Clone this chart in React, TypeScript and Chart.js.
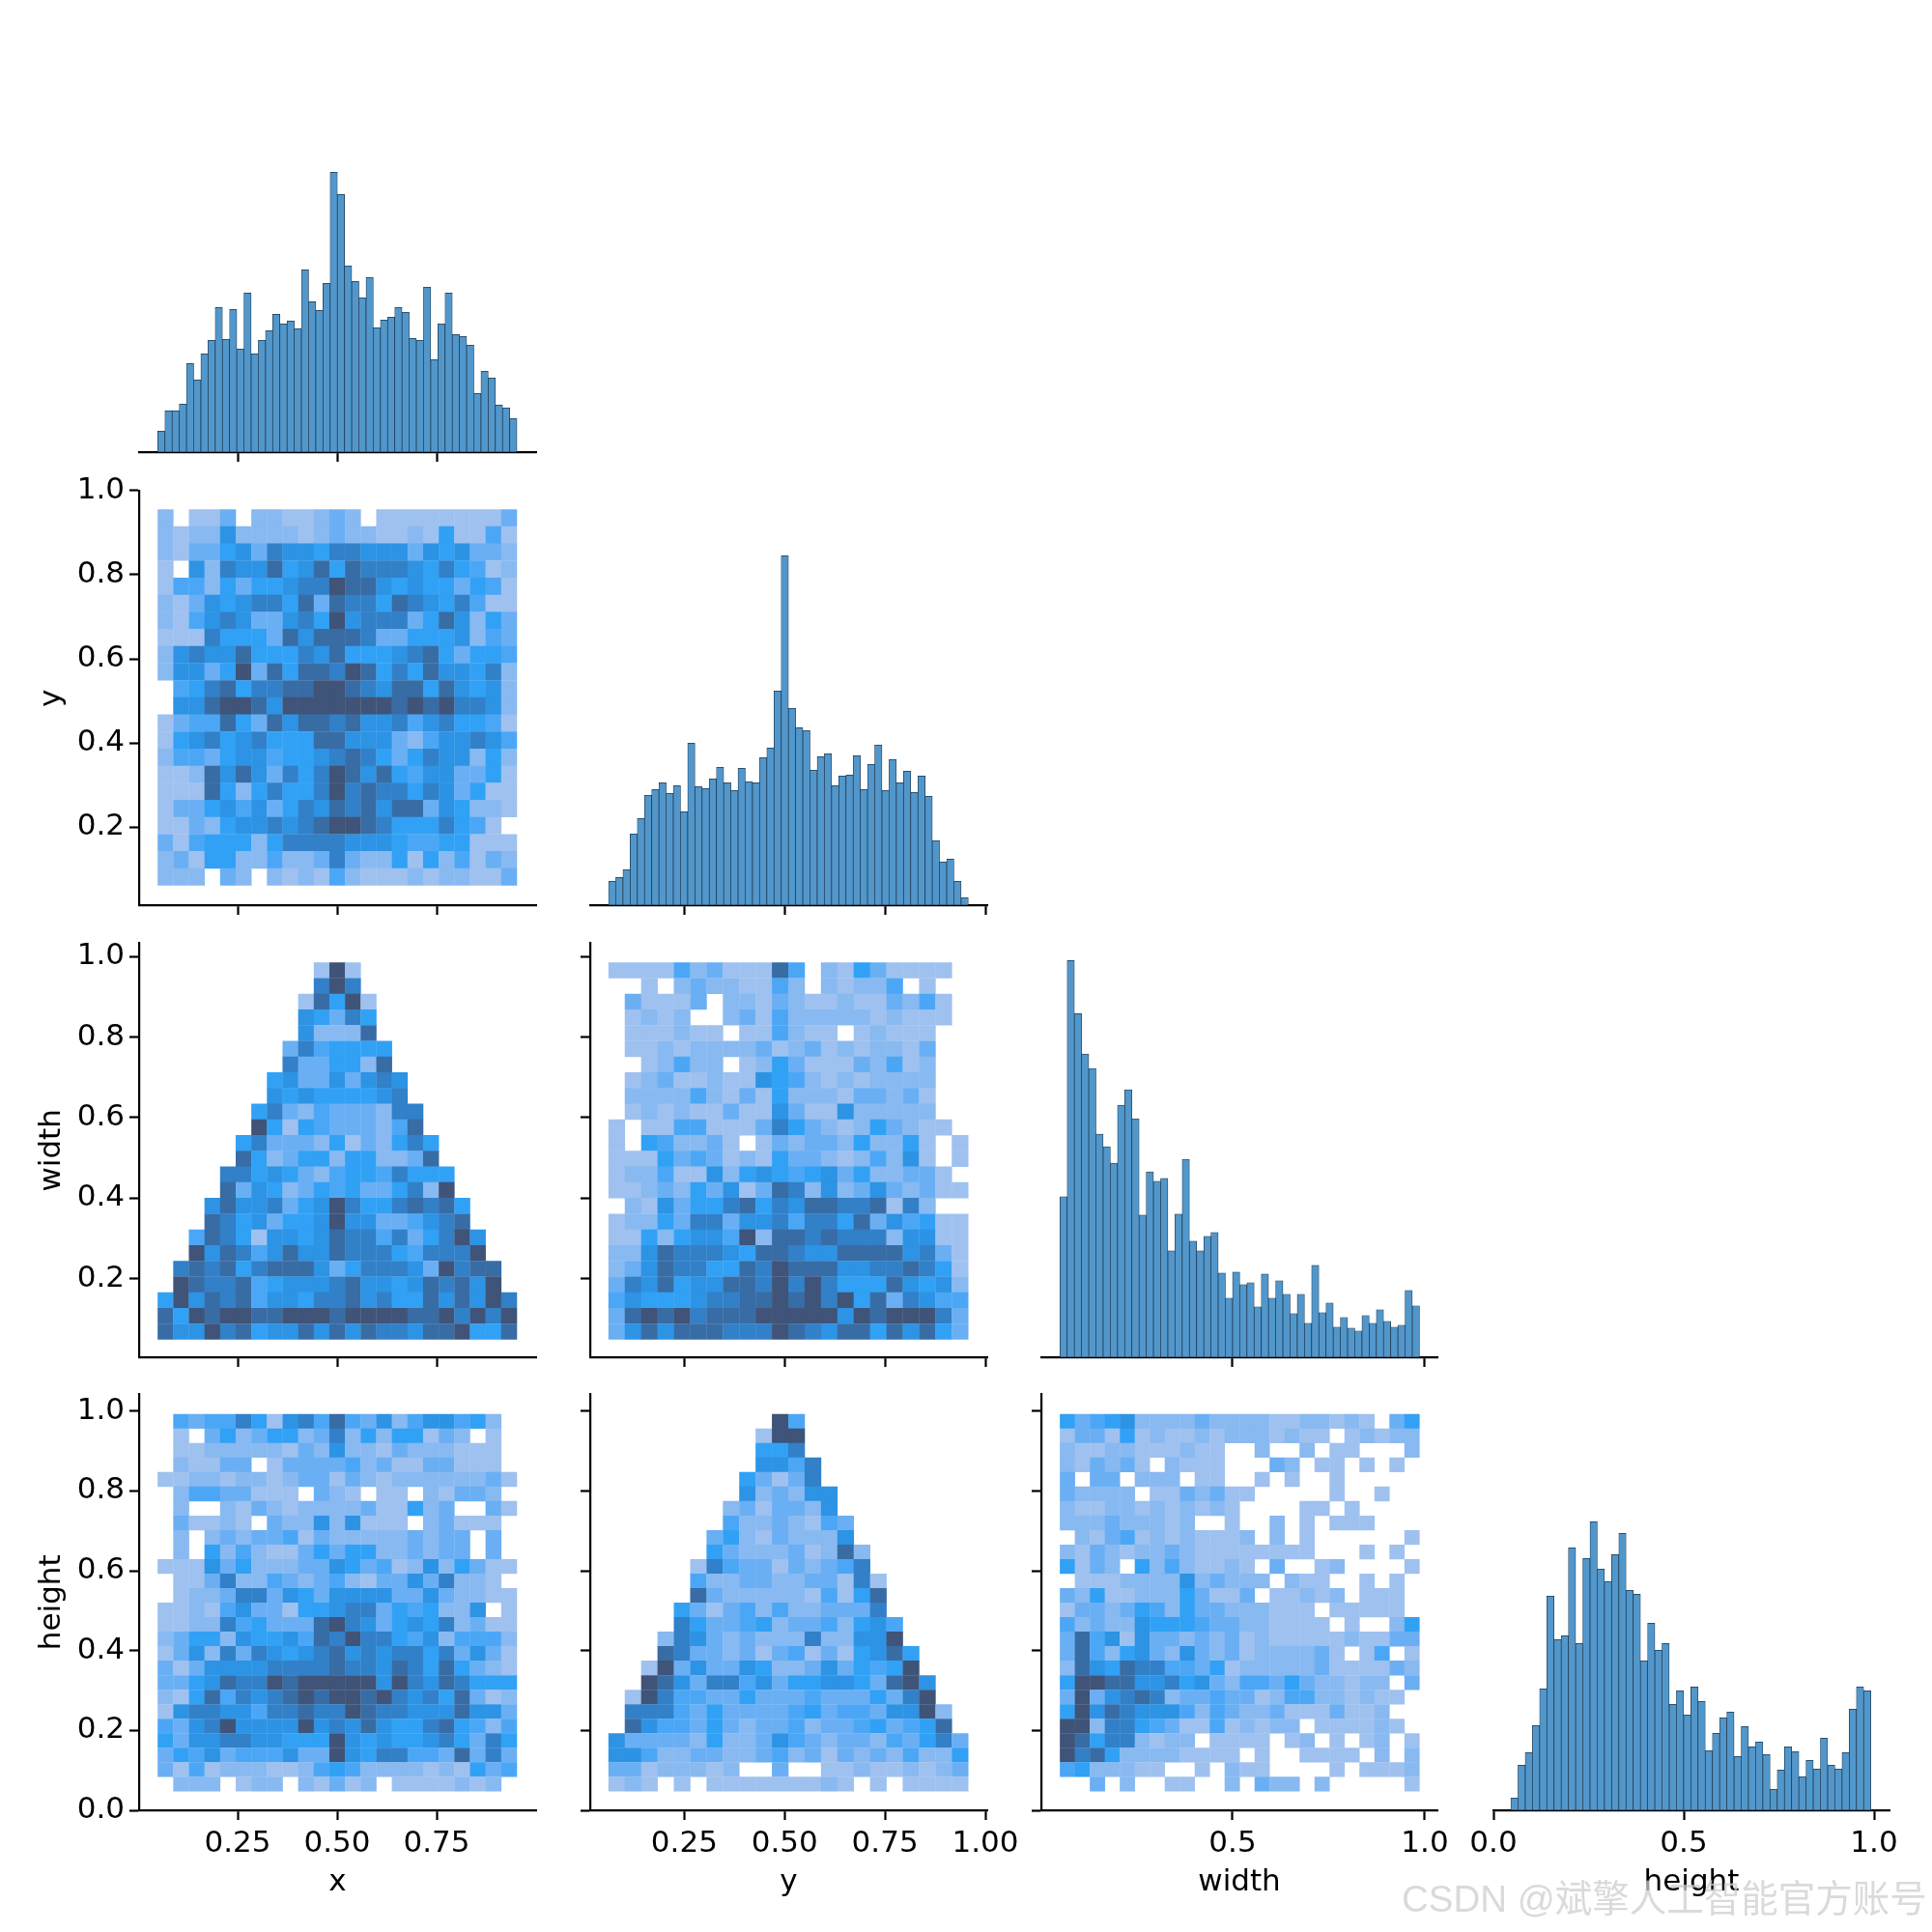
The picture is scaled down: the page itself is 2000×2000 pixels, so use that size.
import React, { useEffect, useRef } from "react";
import { Chart, registerables } from "chart.js";

Chart.register(...registerables);

// Histogram bar heights (counts)
const histX = [65,128,128,149,275,224,305,347,449,350,443,320,494,305,347,377,428,398,407,383,566,467,440,524,869,800,578,530,479,542,386,410,419,449,434,353,347,512,287,398,494,365,359,332,182,251,230,146,137,104];
const histY = [74,86,110,221,269,341,359,380,347,371,290,503,368,362,392,428,380,356,425,383,380,458,488,665,1085,611,551,542,419,461,470,371,401,404,464,359,437,497,356,452,380,416,350,401,338,200,134,143,74,23];
const histWidth = [499,1234,1069,943,898,694,655,604,784,832,742,442,577,547,556,331,445,616,361,331,376,388,262,184,265,226,232,157,259,184,238,196,136,196,106,286,139,169,94,124,91,82,130,106,148,112,94,100,208,160];
const histHeight = [38,140,179,263,377,665,530,542,815,518,782,896,749,710,794,860,683,671,464,581,497,518,329,371,296,383,338,185,239,287,305,167,260,197,212,173,65,125,197,182,104,155,128,224,140,128,179,314,383,371];

// 2-D histogram shade levels (0 = empty), rows listed from the top down
const heatYvsX = [
[2,0,1,1,3,0,2,2,1,1,2,3,2,0,1,1,1,1,1,1,1,1,3],
[2,1,2,2,6,2,2,2,2,1,2,3,2,2,1,1,2,1,5,1,1,4,1],
[2,1,3,3,5,6,3,7,6,6,5,7,7,6,6,6,3,6,5,6,3,3,2],
[1,0,6,2,7,6,6,8,5,6,8,5,8,7,7,7,6,5,7,5,4,1,2],
[1,4,4,2,5,3,5,5,6,7,7,9,8,8,6,5,6,5,5,3,5,4,1],
[2,1,3,6,5,6,7,7,5,8,3,8,7,7,5,8,7,6,5,7,4,1,1],
[2,1,4,6,7,6,3,3,6,7,5,9,6,7,7,7,3,5,8,6,2,5,3],
[1,1,1,7,5,5,5,3,8,6,8,8,8,7,3,3,5,5,5,6,2,4,3],
[2,6,7,6,6,8,5,5,5,7,6,8,5,5,5,6,7,8,5,3,5,5,4],
[2,6,6,3,5,9,3,8,5,8,8,7,9,8,5,7,5,8,6,6,5,7,2],
[0,4,5,7,8,5,7,7,8,8,9,9,8,7,6,8,8,5,8,6,5,6,2],
[0,6,6,8,9,9,8,6,9,9,9,9,9,9,9,8,9,8,9,7,7,6,2],
[1,3,4,4,8,5,3,8,6,8,8,7,8,6,6,7,4,6,7,5,5,4,1],
[1,5,6,7,5,6,7,5,5,5,8,8,6,6,6,3,2,4,6,6,7,6,4],
[2,4,4,3,5,6,6,4,5,5,6,7,8,7,5,3,5,7,6,6,2,5,2],
[1,1,2,8,6,8,6,3,7,5,7,9,8,6,8,5,4,6,6,3,3,5,1],
[1,1,1,8,5,2,5,7,5,5,7,9,7,8,7,7,5,7,6,3,5,1,1],
[1,3,3,5,6,4,6,3,5,7,6,8,7,8,6,8,8,3,6,5,2,2,1],
[1,1,3,2,5,6,6,7,6,7,8,9,9,8,7,5,5,5,7,5,4,1,0],
[3,1,4,5,5,5,2,5,7,7,7,7,6,6,6,5,4,4,5,5,1,1,1],
[2,3,1,5,5,2,2,4,2,2,3,7,3,2,2,5,1,5,2,4,1,3,2],
[2,2,2,0,3,2,0,2,1,2,1,4,2,1,1,1,2,1,2,2,1,1,3],
];
const heatWidthVsX = [
[0,0,0,0,0,0,0,0,0,0,1,9,1,0,0,0,0,0,0,0,0,0,0],
[0,0,0,0,0,0,0,0,0,0,7,9,7,0,0,0,0,0,0,0,0,0,0],
[0,0,0,0,0,0,0,0,0,1,8,5,9,1,0,0,0,0,0,0,0,0,0],
[0,0,0,0,0,0,0,0,0,6,5,3,7,5,0,0,0,0,0,0,0,0,0],
[0,0,0,0,0,0,0,0,0,6,2,2,2,8,0,0,0,0,0,0,0,0,0],
[0,0,0,0,0,0,0,0,3,7,4,5,5,5,5,0,0,0,0,0,0,0,0],
[0,0,0,0,0,0,0,0,7,3,3,5,5,2,8,0,0,0,0,0,0,0,0],
[0,0,0,0,0,0,0,5,6,3,3,6,3,6,7,6,0,0,0,0,0,0,0],
[0,0,0,0,0,0,0,6,5,6,5,5,5,5,6,7,0,0,0,0,0,0,0],
[0,0,0,0,0,0,5,7,3,2,4,3,3,3,2,7,7,0,0,0,0,0,0],
[0,0,0,0,0,0,9,5,1,5,4,3,3,3,2,4,8,0,0,0,0,0,0],
[0,0,0,0,0,5,7,3,3,3,2,5,1,3,2,5,7,5,0,0,0,0,0],
[0,0,0,0,0,8,5,2,3,5,5,2,5,5,2,2,3,8,0,0,0,0,0],
[0,0,0,0,7,7,5,6,5,3,2,4,5,5,4,7,5,5,5,0,0,0,0],
[0,0,0,0,8,3,6,5,2,3,5,4,5,3,3,5,7,2,9,0,0,0,0],
[0,0,0,6,8,6,6,7,3,5,6,9,7,5,5,7,8,7,8,5,0,0,0],
[0,0,0,8,7,5,6,3,5,5,6,9,6,6,3,3,4,6,7,8,0,0,0],
[0,0,4,8,7,5,1,6,6,5,6,8,7,7,4,7,3,5,7,9,6,0,0],
[0,0,9,6,8,7,4,6,8,6,6,8,7,7,7,5,4,7,7,7,9,0,0],
[0,7,8,7,8,5,7,8,8,8,6,3,5,7,7,7,6,3,9,7,8,8,0],
[0,9,8,7,7,8,4,5,6,6,6,7,8,6,6,5,6,8,7,8,6,9,0],
[5,9,6,8,7,8,4,6,6,5,7,7,8,6,7,5,5,8,6,8,6,9,7],
[8,5,9,8,9,9,8,8,9,9,9,8,9,9,9,9,8,8,9,7,9,7,9],
[8,6,6,9,7,8,5,6,6,8,6,8,6,8,7,7,6,8,8,9,5,5,8],
];
const heatWidthVsY = [
[1,1,1,1,4,2,3,1,1,1,8,4,0,2,1,5,3,1,1,1,1,0],
[0,0,1,0,2,3,2,2,1,1,4,2,0,2,1,2,2,4,0,1,0,0],
[0,3,1,1,1,3,0,2,2,1,3,2,1,1,2,1,1,3,2,4,1,0],
[0,1,2,1,2,0,0,2,3,1,4,2,2,2,2,2,1,2,1,1,1,0],
[0,1,1,1,2,1,1,0,1,1,4,2,1,1,0,1,2,1,1,1,0,0],
[0,1,1,2,1,2,2,2,2,3,1,2,3,1,2,1,2,2,1,3,0,0],
[0,0,1,2,4,2,2,0,1,2,5,3,1,1,1,3,2,4,1,2,0,0],
[0,1,2,3,1,1,2,1,1,6,5,4,2,1,2,1,2,2,2,2,0,0],
[0,2,2,2,2,4,2,1,3,1,5,2,2,2,1,3,3,2,3,1,0,0],
[0,1,2,1,2,1,1,3,1,1,6,3,1,1,6,2,2,2,2,2,0,0],
[1,0,1,1,4,4,1,1,1,3,7,5,3,2,1,2,5,3,2,1,1,0],
[1,0,5,4,2,2,3,1,0,1,3,2,3,3,2,5,2,2,5,1,0,1],
[1,1,1,5,3,4,3,1,2,1,5,3,3,2,1,2,4,2,6,1,0,1],
[1,2,2,4,1,1,6,2,5,6,5,4,5,6,3,5,2,2,3,3,1,0],
[1,1,2,3,2,5,3,6,1,3,8,7,2,6,2,3,6,3,2,3,1,1],
[0,2,1,6,3,5,5,7,8,5,7,6,8,8,7,7,8,1,7,2,0,0],
[1,2,2,5,3,7,7,3,6,6,7,4,7,7,5,8,3,6,4,5,1,1],
[1,1,5,2,5,6,6,4,9,2,8,8,7,8,7,7,7,2,6,6,1,1],
[2,2,6,8,7,7,7,6,5,8,8,7,6,6,8,8,8,8,6,7,3,1],
[2,3,6,8,7,7,5,5,8,7,9,8,8,8,6,6,7,7,8,7,5,1],
[3,7,6,8,5,6,6,8,8,7,9,7,9,7,5,5,5,8,6,5,6,2],
[4,6,5,5,5,6,7,7,8,8,9,8,9,7,9,5,8,3,7,6,4,4],
[3,8,9,8,9,7,8,8,8,9,9,9,9,9,6,9,8,9,9,9,7,3],
[3,6,8,6,8,8,8,7,7,7,9,8,7,6,8,8,5,8,6,8,5,3],
];
const heatHeightVsX = [
[0,4,3,4,4,7,5,1,6,7,4,8,4,3,6,2,4,6,6,4,5,2,0],
[0,1,0,3,5,2,3,5,5,2,3,7,2,5,2,5,5,1,3,2,0,1,0],
[0,1,1,2,2,2,2,2,1,3,2,6,2,2,1,3,2,2,2,1,1,1,0],
[0,2,1,1,3,3,0,1,3,3,3,3,4,2,3,1,1,3,3,1,1,1,0],
[1,1,2,2,1,2,2,1,2,3,3,1,3,2,1,2,2,2,2,2,2,3,1],
[0,2,4,4,3,3,1,1,1,0,3,2,1,0,1,1,0,2,1,3,3,2,0],
[0,2,0,0,2,1,3,2,1,2,2,2,2,3,1,1,5,2,3,0,0,3,1],
[0,3,1,1,2,1,0,3,2,2,6,2,6,1,1,1,0,2,3,1,1,1,0],
[0,2,0,2,3,2,3,3,4,1,3,2,2,2,2,2,3,2,3,3,0,3,0],
[0,2,0,5,2,4,2,1,1,3,5,3,5,5,2,2,3,2,3,3,0,3,0],
[1,1,1,6,3,5,2,2,2,3,3,6,5,3,4,1,2,6,2,5,3,1,1],
[0,1,1,3,7,2,2,4,3,2,3,4,2,1,3,3,6,3,7,2,2,1,0],
[0,1,2,2,3,7,7,3,6,5,3,6,6,6,6,3,3,6,3,2,2,1,1],
[1,1,2,1,4,6,3,3,1,5,5,6,7,7,3,5,4,5,2,2,6,0,1],
[1,1,2,2,7,4,5,3,3,3,8,9,7,6,3,5,6,5,7,2,3,1,1],
[2,3,5,5,2,6,5,5,6,4,8,7,9,7,7,5,4,6,2,4,4,4,2],
[1,3,6,2,7,3,7,6,5,6,7,8,6,7,6,7,7,5,7,3,6,3,1],
[3,1,3,6,6,6,6,7,7,7,7,8,7,7,6,8,7,5,8,5,3,2,1],
[3,3,5,6,8,7,7,9,8,9,9,9,9,9,6,9,7,6,8,7,5,5,5],
[2,1,5,8,4,7,6,7,8,9,8,9,9,8,9,7,6,7,5,8,3,1,2],
[1,6,7,7,6,6,4,7,7,8,7,7,9,8,7,7,6,6,6,8,6,6,3],
[4,3,6,7,9,6,6,6,6,9,6,7,6,8,6,5,5,7,8,5,4,2,4],
[5,3,6,6,7,7,6,6,5,5,5,9,6,5,6,5,5,6,7,5,3,7,5],
[3,5,4,6,3,4,4,4,6,3,3,9,6,5,7,7,4,4,3,8,3,7,3],
[3,1,4,1,2,2,2,1,1,2,4,5,4,2,2,2,2,1,2,1,5,3,4],
[0,2,2,2,0,1,2,2,0,2,1,3,1,2,0,1,1,1,1,2,1,2,0],
];
const heatHeightVsY = [
[0,0,0,0,0,0,0,0,0,0,9,4,0,0,0,0,0,0,0,0,0,0],
[0,0,0,0,0,0,0,0,0,1,9,9,0,0,0,0,0,0,0,0,0,0],
[0,0,0,0,0,0,0,0,0,5,5,7,0,0,0,0,0,0,0,0,0,0],
[0,0,0,0,0,0,0,0,0,6,6,4,7,0,0,0,0,0,0,0,0,0],
[0,0,0,0,0,0,0,0,5,3,1,3,7,0,0,0,0,0,0,0,0,0],
[0,0,0,0,0,0,0,0,6,2,3,2,6,6,0,0,0,0,0,0,0,0],
[0,0,0,0,0,0,0,2,3,1,3,3,2,6,0,0,0,0,0,0,0,0],
[0,0,0,0,0,0,0,4,2,2,3,2,1,4,3,0,0,0,0,0,0,0],
[0,0,0,0,0,0,3,5,2,1,3,2,2,2,6,0,0,0,0,0,0,0],
[0,0,0,0,0,0,5,3,2,2,2,3,1,2,8,2,0,0,0,0,0,0],
[0,0,0,0,0,1,7,4,3,3,1,3,2,3,4,7,0,0,0,0,0,0],
[0,0,0,0,0,4,2,2,3,3,2,2,3,3,1,7,1,0,0,0,0,0],
[0,0,0,0,0,8,3,2,2,2,2,2,1,4,1,5,8,0,0,0,0,0],
[0,0,0,0,5,3,1,3,4,2,4,2,2,3,3,3,7,0,0,0,0,0],
[0,0,0,0,7,5,3,3,4,5,2,3,3,4,2,5,6,4,0,0,0,0],
[0,0,0,2,7,6,3,2,3,2,2,2,7,2,2,6,6,9,0,0,0,0],
[0,0,0,8,7,3,3,2,3,1,3,4,1,3,1,5,6,8,5,0,0,0],
[0,0,1,9,3,6,3,3,6,5,2,2,3,6,3,5,4,5,9,0,0,0],
[0,0,9,8,6,3,7,7,4,6,3,5,5,6,6,5,3,8,9,6,0,0],
[0,1,9,7,4,4,3,3,5,3,3,3,4,3,3,3,5,3,7,9,0,0],
[0,7,7,7,4,3,5,3,3,3,3,4,5,3,4,4,3,6,6,9,2,0],
[0,8,6,4,4,3,5,3,2,3,3,4,2,3,3,4,5,3,4,5,8,0],
[6,3,3,3,3,2,5,2,2,3,6,4,3,2,3,3,2,4,3,5,7,3],
[6,6,4,2,2,3,3,2,2,3,4,2,3,1,3,2,3,2,4,2,2,5],
[3,3,1,2,2,2,1,2,0,0,3,0,0,1,1,2,1,1,2,1,2,3],
[1,2,1,0,1,0,1,1,1,1,1,1,1,2,1,0,1,0,1,1,1,1],
];
const heatHeightVsWidth = [
[5,3,4,5,6,2,2,2,2,3,2,2,2,2,1,1,2,2,1,2,1,0,3,5],
[1,3,3,1,5,1,2,1,1,2,1,2,2,2,1,2,1,1,0,1,2,1,2,2],
[2,1,1,2,2,1,1,1,2,1,1,0,0,2,0,0,2,0,1,1,0,0,0,2],
[2,1,3,2,3,1,0,2,1,1,1,0,0,0,3,2,0,1,1,0,1,0,1,0],
[3,0,3,3,0,2,2,2,0,1,1,0,0,1,0,1,0,0,1,0,0,0,0,0],
[3,2,2,2,2,0,1,1,3,2,3,1,1,0,0,0,0,0,1,0,0,1,0,0],
[2,1,1,2,2,1,2,1,2,1,2,1,0,0,0,0,1,1,0,1,0,0,0,0],
[2,2,2,3,2,2,2,1,2,0,0,1,0,0,2,0,1,0,1,1,1,0,0,0],
[0,2,1,3,4,1,2,1,2,1,1,1,2,0,2,0,1,0,0,0,0,0,0,1],
[2,1,3,2,1,2,2,3,2,1,1,1,1,1,1,1,1,0,0,0,1,0,1,0],
[5,1,3,2,0,5,2,4,2,1,1,2,1,0,3,0,0,1,2,0,0,0,0,1],
[0,1,1,1,2,2,2,2,6,2,3,2,2,2,0,2,1,1,0,0,1,0,1,0],
[3,2,5,1,1,2,2,2,5,3,1,1,3,0,1,1,2,1,2,0,1,1,1,0],
[1,3,3,2,3,5,4,2,5,3,3,2,2,2,1,1,1,0,1,1,1,1,1,0],
[4,2,3,2,2,6,5,5,5,4,3,3,2,2,1,1,1,1,0,1,0,0,2,5],
[3,8,4,6,1,6,3,3,2,3,2,3,1,2,1,1,1,1,1,2,1,1,3,3],
[3,8,4,2,5,6,3,2,6,3,2,3,1,2,2,2,2,3,1,0,1,4,0,1],
[2,8,6,5,8,7,7,4,4,3,5,1,2,2,2,2,2,3,1,1,1,1,3,2],
[5,9,9,8,8,6,6,7,5,6,3,2,4,4,3,5,3,2,2,1,2,2,0,3],
[3,9,3,6,7,8,7,2,3,3,4,3,3,1,2,4,4,2,2,1,2,1,1,0],
[5,9,6,8,7,6,6,6,4,2,4,3,2,2,3,1,1,1,3,1,1,2,0,0],
[9,9,2,7,7,5,4,3,1,1,4,1,2,1,2,2,0,1,1,1,1,2,1,0],
[9,8,5,7,7,2,1,2,2,0,1,1,1,1,0,1,2,0,1,0,1,2,0,1],
[9,7,8,5,2,2,2,2,1,1,1,1,0,1,0,0,1,1,1,1,0,2,0,2],
[4,5,2,2,2,1,1,0,0,1,0,2,1,1,0,0,0,0,1,0,1,1,1,2],
[0,0,3,0,2,0,0,1,1,0,0,2,0,3,2,2,0,2,0,0,0,0,0,1],
];

const levelColors = ["#ffffff","#9FC1EF","#88B9F1","#6AAFF4","#4BA7F6","#31A1F5","#2D93E4","#3180C8","#386CA5","#3F5478"];

// Tick labels
const xTicks1 = [0.25, 0.5, 0.75];
const xTicks2 = [0.25, 0.5, 0.75, 1.0];
const xTicks3 = [0.5, 1.0];
const xTicks4 = [0.0, 0.5, 1.0];
const yTicks = [0.2, 0.4, 0.6, 0.8, 1.0];
const yTicksLast = [0.0, 0.2, 0.4, 0.6, 0.8, 1.0];
const names = ["x", "y", "width", "height"];

// Axis ranges and the span covered by the bins
const colRanges = [[0.0024, 1.0], [0.0157, 1.0048], [0.0025, 1.0327], [0, 1.0406]];
const colBinSpan = [[0.0493, 0.9517], [0.0614, 0.9575], [0.051, 0.9861], [0.0457, 0.9916]];
const rowRanges = [[0, 1296], [0.015, 0.998], [0.0052, 1.0323], [0, 1.0414]];
const rowBinSpan = [null, [0.0612, 0.9546], [0.0489, 0.9844], [0.0469, 0.992]];
const diagMax = [1296, 1296, 1298, 1302];

// Panel boxes on the page
const colBox = [[144, 555], [611, 1021.5], [1078, 1488], [1546, 1956]];
const rowBox = [[36, 468], [505, 937], [972.5, 1404.5], [1440, 1874]];
const LEFT = 110, RIGHT = 50, TOP = 20, BOTTOM = 100;
const FONT = { family: "'DejaVu Sans'", size: 31 };

type Panel = { row: number; col: number; hist?: number[]; heat?: number[][] };
const panels: Panel[] = [
  { row: 0, col: 0, hist: histX },
  { row: 1, col: 0, heat: heatYvsX },
  { row: 1, col: 1, hist: histY },
  { row: 2, col: 0, heat: heatWidthVsX },
  { row: 2, col: 1, heat: heatWidthVsY },
  { row: 2, col: 2, hist: histWidth },
  { row: 3, col: 0, heat: heatHeightVsX },
  { row: 3, col: 1, heat: heatHeightVsY },
  { row: 3, col: 2, heat: heatHeightVsWidth },
  { row: 3, col: 3, hist: histHeight },
];

function xTicksFor(col: number) {
  return [xTicks1, xTicks2, xTicks3, xTicks4][col];
}

function buildConfig(p: Panel): any {
  const { row, col } = p;
  const isLastRow = row === 3;
  const isFirstCol = col === 0;
  const xDigits = col < 2 ? 2 : 1;
  const [x0, x1] = colBinSpan[col];
  let dataset: any;
  let yMin: number, yMax: number;
  if (p.hist) {
    const w = (x1 - x0) / p.hist.length;
    dataset = {
      type: "bar",
      data: p.hist.map((v, i) => ({ x: x0 + (i + 0.5) * w, y: v })),
      backgroundColor: "#5297CB",
      borderColor: "#1E3A52",
      borderWidth: 0.75,
      borderSkipped: false,
      barPercentage: 1,
      categoryPercentage: 1,
    };
    yMin = 0;
    yMax = diagMax[row];
  } else {
    const rows = p.heat as number[][];
    const span = rowBinSpan[row] as number[];
    const nCols = rows[0].length;
    const w = (x1 - x0) / nCols;
    const h = (span[1] - span[0]) / rows.length;
    const data: any[] = [];
    const colors: string[] = [];
    rows.forEach((cells, r) => {
      const hi = span[1] - r * h;
      cells.forEach((lvl, c) => {
        if (lvl > 0) {
          data.push({ x: x0 + (c + 0.5) * w, y: [hi - h, hi + h * 0.02] });
          colors.push(levelColors[lvl]);
        }
      });
    });
    dataset = {
      type: "bar",
      data,
      backgroundColor: colors,
      borderWidth: 0,
      barPercentage: 1.02,
      categoryPercentage: 1,
    };
    yMin = rowRanges[row][0];
    yMax = rowRanges[row][1];
  }
  const xVals = xTicksFor(col);
  const yVals = row === 3 ? yTicksLast : yTicks;
  const axisLine = { display: true, color: "#000", width: 2.2 };
  const grid = { display: true, drawOnChartArea: false, drawTicks: true, tickLength: 10, tickColor: "#000", tickWidth: 2.2, offset: false };
  return {
    type: "bar",
    data: { datasets: [dataset] },
    options: {
      animation: false,
      responsive: false,
      devicePixelRatio: 1,
      layout: { autoPadding: false, padding: { left: 0, right: RIGHT, top: TOP, bottom: 0 } },
      plugins: { legend: { display: false }, tooltip: { enabled: false }, title: { display: false } },
      scales: {
        x: {
          type: "linear",
          offset: false,
          min: colRanges[col][0],
          max: colRanges[col][1],
          border: axisLine,
          grid,
          afterBuildTicks: (s: any) => { s.ticks = xVals.map((v) => ({ value: v })); },
          afterFit: (s: any) => { s.height = BOTTOM; },
          ticks: {
            autoSkip: false,
            maxRotation: 0,
            color: "#000",
            padding: 6,
            font: FONT,
            callback: (v: any) => (isLastRow ? Number(v).toFixed(xDigits) : ""),
          },
          title: { display: isLastRow, text: names[col], color: "#000", font: FONT, padding: { top: 0, bottom: 6 } },
        },
        y: {
          type: "linear",
          display: !p.hist,
          min: yMin,
          max: yMax,
          border: axisLine,
          grid,
          afterBuildTicks: (s: any) => { s.ticks = yVals.map((v) => ({ value: v })); },
          afterFit: (s: any) => { s.width = LEFT; },
          ticks: {
            autoSkip: false,
            color: "#000",
            padding: 5,
            font: FONT,
            callback: (v: any) => (isFirstCol ? Number(v).toFixed(1) : ""),
          },
          title: { display: isFirstCol && !p.hist, text: names[row], color: "#000", font: FONT, padding: { top: 1, bottom: 0 } },
        },
      },
    },
  };
}

function PanelChart({ panel }: { panel: Panel }) {
  const ref = useRef<HTMLCanvasElement>(null);
  const [l, r] = colBox[panel.col];
  const [t, b] = rowBox[panel.row];
  const width = Math.round(r - l) + LEFT + RIGHT;
  const height = Math.round(b - t) + TOP + BOTTOM;
  useEffect(() => {
    const chart = new Chart(ref.current as HTMLCanvasElement, buildConfig(panel));
    return () => chart.destroy();
  }, [panel]);
  return (
    <canvas
      ref={ref}
      width={width}
      height={height}
      style={{ position: "absolute", left: Math.round(l) - LEFT, top: Math.round(t) - TOP, width, height }}
    />
  );
}

export default function App() {
  return (
    <div style={{ position: "absolute", left: 0, top: 0, width: 2000, height: 2000, background: "#fff", overflow: "hidden" }}>
      {panels.map((p) => (
        <PanelChart key={`${p.row}-${p.col}`} panel={p} />
      ))}
      <div
        style={{
          position: "absolute",
          left: 1451,
          top: 1943,
          whiteSpace: "nowrap",
          fontFamily: "'Liberation Sans','Noto Sans CJK SC',sans-serif",
          fontSize: 38.5,
          lineHeight: "46px",
          color: "rgba(205,205,205,0.75)",
        }}
      >
        CSDN @斌擎人工智能官方账号
      </div>
    </div>
  );
}
